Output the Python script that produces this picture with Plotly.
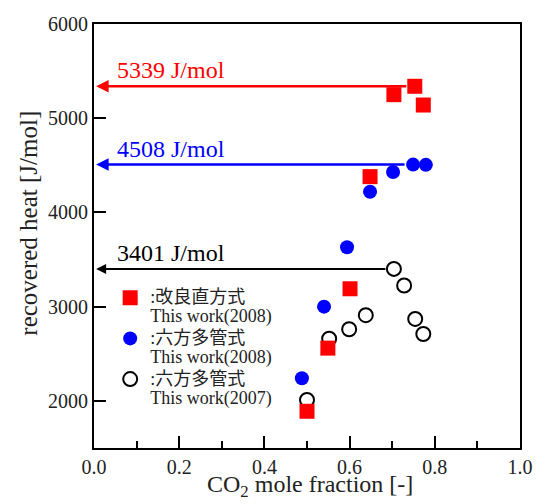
import plotly.graph_objects as go

# ---- data ----
red_x = [0.500, 0.549, 0.601, 0.648, 0.704, 0.753, 0.773]
red_y = [1890, 2560, 3190, 4380, 5250, 5339, 5140]

blue_x = [0.488, 0.540, 0.594, 0.648, 0.702, 0.749, 0.779]
blue_y = [2240, 3000, 3630, 4220, 4430, 4508, 4505]

open_x = [0.500, 0.552, 0.599, 0.638, 0.704, 0.728, 0.754, 0.773]
open_y = [2010, 2660, 2760, 2910, 3401, 3225, 2870, 2710]

red_label = [":改良直方式", "This work(2008)"]
blue_label = [":六方多管式", "This work(2008)"]
open_label = [":六方多管式", "This work(2007)"]

x_ticks = [0.0, 0.2, 0.4, 0.6, 0.8, 1.0]
y_ticks = [2000, 3000, 4000, 5000, 6000]

SERIF = "Liberation Serif, Times New Roman, serif"
LEG_FONT = "Liberation Serif, Noto Sans CJK JP, serif"


def leg_name(lines):
    return "<br>".join(f'<span style="font-size:18px">{t}</span>' for t in lines)


fig = go.Figure()

fig.add_trace(go.Scatter(
    x=open_x, y=open_y, mode="markers", name=leg_name(open_label), legendrank=3,
    marker=dict(symbol="circle-open", size=14, color="black", line=dict(width=2, color="black")),
))
fig.add_trace(go.Scatter(
    x=blue_x, y=blue_y, mode="markers", name=leg_name(blue_label), legendrank=2,
    marker=dict(symbol="circle", size=14, color="#0000ff"),
))
fig.add_trace(go.Scatter(
    x=red_x, y=red_y, mode="markers", name=leg_name(red_label), legendrank=1,
    marker=dict(symbol="square", size=15, color="#ff0000"),
))

# arrows at the maximum of each series
series = [
    (red_x, red_y, "#ff0000", 2.5),
    (blue_x, blue_y, "#0000ff", 2.5),
    (open_x, open_y, "black", 2.0),
]
for xs, ys, col, w in series:
    i = max(range(len(ys)), key=lambda k: ys[k])
    ymax, xmax = ys[i], xs[i]
    fig.add_annotation(
        x=0.005, y=ymax, ax=xmax, ay=ymax, xref="x", yref="y", axref="x", ayref="y",
        text="", showarrow=True, arrowhead=2, arrowsize=1, arrowwidth=w,
        arrowcolor=col, startstandoff=7,
    )
    fig.add_annotation(
        x=0.05, y=ymax, xref="x", yref="y", text=f"{ymax} J/mol", showarrow=False,
        xanchor="left", yanchor="middle", yshift=16,
        font=dict(family=SERIF, size=24, color=col),
    )

# axis titles as annotations (placed as in the reference)
fig.add_annotation(
    x=-0.153, y=0.531, xref="paper", yref="paper", text="recovered heat [J/mol]",
    showarrow=False, textangle=-90, xanchor="center", yanchor="middle",
    font=dict(family=SERIF, size=25, color="#222222"),
)
fig.add_annotation(
    x=0.507, y=-0.1297, xref="paper", yref="paper", text="CO<sub>2</sub> mole fraction [-]",
    showarrow=False, xanchor="center", yanchor="bottom",
    font=dict(family=SERIF, size=24, color="#222222"),
)

fig.update_layout(
    width=536, height=504,
    margin=dict(l=94, r=16, t=24, b=56),
    paper_bgcolor="white", plot_bgcolor="white",
    font=dict(family=SERIF, color="#222222"),
    legend=dict(
        x=0.038, y=0.392, xanchor="left", yanchor="top",
        bgcolor="rgba(0,0,0,0)", valign="top", tracegroupgap=0,
        font=dict(family=LEG_FONT, size=14.5, color="#222222"),
    ),
    showlegend=True,
)
fig.update_xaxes(
    range=[0, 1], tickvals=x_ticks, ticktext=[f"{v:.1f}" for v in x_ticks],
    ticks="inside", ticklen=12, tickwidth=2, tickcolor="black",
    minor=dict(dtick=0.1, ticks="inside", ticklen=7, tickwidth=2, tickcolor="black"),
    showline=True, linewidth=2, linecolor="black", mirror=True,
    showgrid=False, zeroline=False, automargin=False,
    tickfont=dict(family=SERIF, size=20, color="#222222"),
)
fig.update_yaxes(
    range=[1500, 6000], tickvals=y_ticks,
    ticks="inside", ticklen=12, tickwidth=2, tickcolor="black",
    showline=True, linewidth=2, linecolor="black", mirror=True,
    showgrid=False, zeroline=False, automargin=False,
    tickfont=dict(family=SERIF, size=20, color="#222222"),
)

fig.write_html("out.html")
